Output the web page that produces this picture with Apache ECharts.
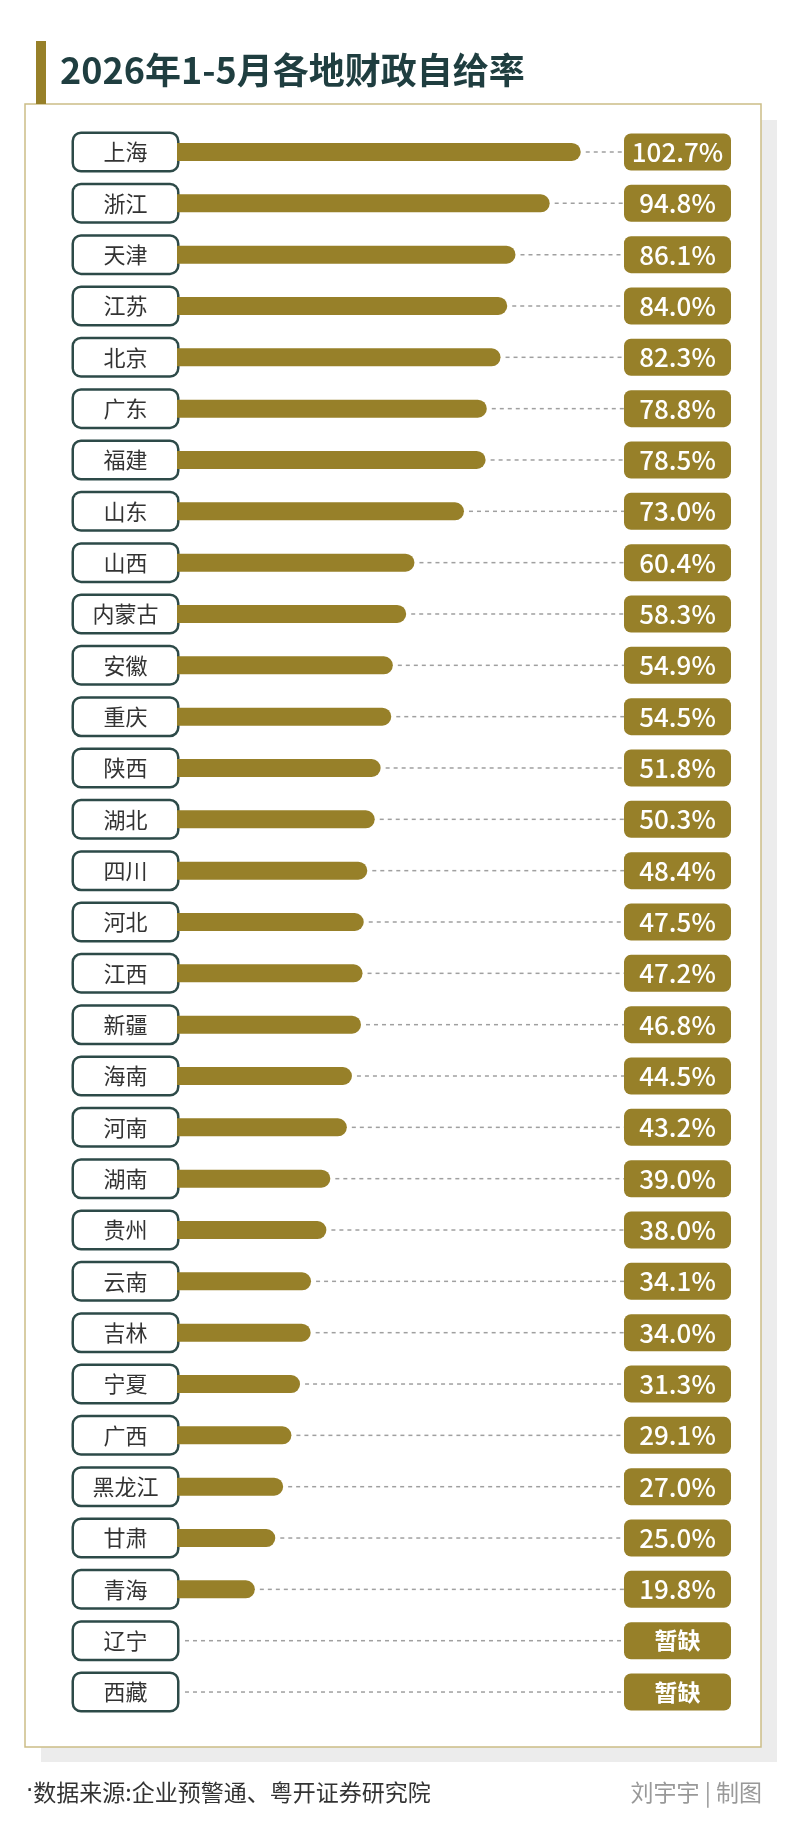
<!DOCTYPE html>
<html>
<head>
<meta charset="utf-8">
<title>2026年1-5月各地财政自给率</title>
<script src="https://cdn.jsdelivr.net/npm/echarts@6/dist/echarts.min.js"></script>
<style>
  html, body { margin: 0; padding: 0; background: #fff; }
  #main { width: 800px; height: 1841px; }
</style>
</head>
<body>
<div id="main"></div>
<script>
// 地区 & 自给率(%)，null = 暂缺
var regions = ['上海','浙江','天津','江苏','北京','广东','福建','山东','山西','内蒙古',
  '安徽','重庆','陕西','湖北','四川','河北','江西','新疆','海南','河南',
  '湖南','贵州','云南','吉林','宁夏','广西','黑龙江','甘肃','青海','辽宁','西藏'];
var rates = [102.7, 94.8, 86.1, 84.0, 82.3, 78.8, 78.5, 73.0, 60.4, 58.3,
  54.9, 54.5, 51.8, 50.3, 48.4, 47.5, 47.2, 46.8, 44.5, 43.2,
  39.0, 38.0, 34.1, 34.0, 31.3, 29.1, 27.0, 25.0, 19.8, null, null];
var missingText = '暂缺';
var xMax = 113.7;

var gold = '#978029';
var font = 'Noto Sans CJK SC';

var rateLabels = rates.map(function (v) {
  return v == null ? missingText : v.toFixed(1) + '%';
});

var dom = document.getElementById('main');
var myChart = echarts.init(dom);

var option = {
  backgroundColor: '#fff',
  animation: false,
  textStyle: { fontFamily: font },
  graphic: [
    // 阴影 + 外框
    { type: 'rect', z: -20, shape: { x: 41, y: 120, width: 736, height: 1642 }, style: { fill: '#ececec' } },
    { type: 'rect', z: -19, shape: { x: 25, y: 104, width: 736, height: 1643 }, style: { fill: '#fff', stroke: '#cbbd86', lineWidth: 1.5 } },
    { type: 'rect', z: -18, shape: { x: 36, y: 41, width: 10, height: 63 }, style: { fill: gold } },
    {
      type: 'text', left: 60, top: 52,
      style: { text: '2026年1-5月各地财政自给率', fill: '#1f3e40', font: 'bold 36px "Noto Sans CJK SC"' }
    },
    {
      type: 'text', left: 26, top: 1781,
      style: {
        text: '{d|·}数据来源:企业预警通、粤开证券研究院',
        fill: '#333', font: '23px "Noto Sans CJK SC"',
        rich: { d: { fontFamily: 'DejaVu Sans', fontSize: 23, fill: '#333' } }
      }
    },
    {
      type: 'text', right: 38, top: 1781,
      style: { text: '刘宇宇 | 制图', fill: '#999', font: '23px "Noto Sans CJK SC"' }
    }
  ],
  grid: { left: 177, right: 176, top: 126.3, bottom: 123.3, containLabel: false },
  xAxis: {
    type: 'value', min: 0, max: xMax,
    show: false
  },
  yAxis: [
    {
      type: 'category', inverse: true, data: regions, position: 'left',
      axisLine: { show: false }, axisTick: { show: false }, splitLine: { show: false },
      axisLabel: {
        margin: 0,
        formatter: function (v) { return '{b|' + v + '}'; },
        rich: {
          b: {
            width: 103, height: 36, lineHeight: 36, align: 'center',
            fontSize: 22, color: '#333', fontFamily: font,
            backgroundColor: '#fff', borderColor: '#2d4a48', borderWidth: 2.5, borderRadius: 7
          }
        }
      }
    },
    {
      type: 'category', inverse: true, data: rateLabels, position: 'right',
      axisLine: { show: false }, axisTick: { show: false }, splitLine: { show: false },
      axisLabel: {
        margin: 0,
        formatter: function (v) { return v === missingText ? '{m|' + v + '}' : '{v|' + v + '}'; },
        rich: {
          v: {
            width: 107, height: 37, lineHeight: 37, align: 'center',
            fontSize: 26, fontWeight: 500, color: '#fff', fontFamily: font,
            backgroundColor: gold, borderRadius: 7
          },
          m: {
            width: 107, height: 37, lineHeight: 37, align: 'center',
            fontSize: 23, fontWeight: 'bold', color: '#fff', fontFamily: font,
            backgroundColor: gold, borderRadius: 7
          }
        }
      }
    }
  ],
  series: [
    {
      name: '引导线',
      type: 'custom',
      yAxisIndex: 0,
      silent: true,
      z: 1,
      data: rates.map(function (v, i) { return [v == null ? 0 : v, i, v == null ? 0 : 1]; }),
      renderItem: function (params, api) {
        var start = api.coord([api.value(0), api.value(1)]);
        var end = api.coord([xMax, api.value(1)]);
        var gap = api.value(2) ? 5 : 8;
        return {
          type: 'line',
          shape: { x1: start[0] + gap, y1: start[1], x2: end[0], y2: end[1] },
          style: { stroke: '#a0a0a0', lineWidth: 1.5, lineDash: [4, 4] }
        };
      }
    },
    {
      name: '财政自给率',
      type: 'bar',
      yAxisIndex: 0,
      barWidth: 18,
      z: 2,
      itemStyle: { color: gold, borderRadius: [0, 9, 9, 0] },
      data: rates.map(function (v) { return v == null ? '-' : v; })
    }
  ]
};

if (option && typeof option === 'object') {
  myChart.setOption(option, true);
}
</script>
</body>
</html>
